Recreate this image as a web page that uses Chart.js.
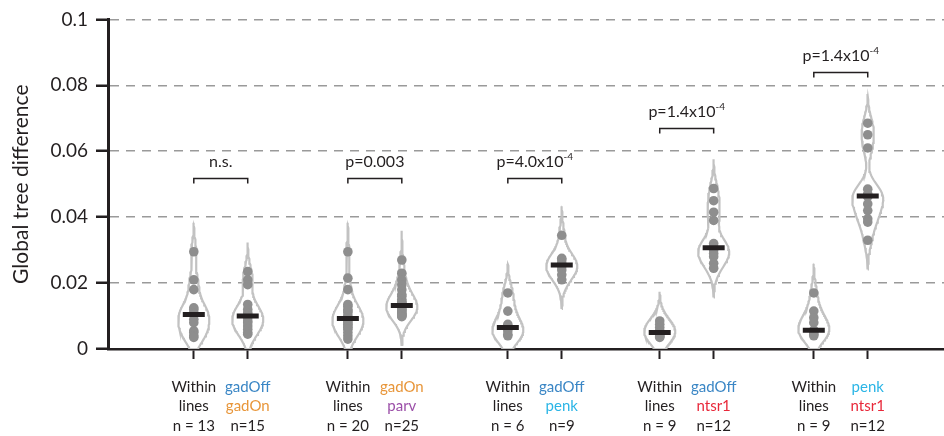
<!DOCTYPE html>
<html>
<head>
<meta charset="utf-8">
<script src="https://cdn.jsdelivr.net/npm/chart.js@4.4.0/dist/chart.umd.min.js"></script>
<style>
  html, body { margin: 0; padding: 0; background: #fff; overflow: hidden; }
  #wrap { width: 944px; height: 436px; position: relative; }
  canvas { display: block; }
</style>
</head>
<body>
<div id="wrap"><canvas id="violinChart"></canvas></div>
<script>
// values, one array per violin
const within1 = [0.0295, 0.021, 0.018, 0.0125, 0.012, 0.011, 0.0105, 0.009, 0.008, 0.0055, 0.005, 0.004, 0.0035];
const gadOffGadOn = [0.0235, 0.021, 0.0195, 0.0135, 0.012, 0.011, 0.0105, 0.01, 0.0095, 0.0085, 0.008, 0.007, 0.006, 0.005, 0.0045];
const within2 = [0.0295, 0.0215, 0.018, 0.0135, 0.013, 0.012, 0.0115, 0.011, 0.01, 0.0095, 0.009, 0.0085, 0.008, 0.0075, 0.007, 0.0065, 0.006, 0.005, 0.004, 0.003];
const gadOnParv = [0.027, 0.023, 0.021, 0.0195, 0.018, 0.0165, 0.016, 0.015, 0.0145, 0.014, 0.0138, 0.0135, 0.0132, 0.013, 0.0128, 0.0125, 0.012, 0.0118, 0.0115, 0.011, 0.0108, 0.0105, 0.0102, 0.01, 0.0098];
const within3 = [0.017, 0.0115, 0.0075, 0.0055, 0.0045, 0.004];
const gadOffPenk = [0.0345, 0.0275, 0.027, 0.026, 0.0255, 0.025, 0.024, 0.0225, 0.021];
const within4 = [0.0085, 0.0075, 0.0065, 0.0055, 0.005, 0.0045, 0.004, 0.0038, 0.0035];
const gadOffNtsr1 = [0.0487, 0.045, 0.0415, 0.039, 0.032, 0.031, 0.0305, 0.03, 0.029, 0.028, 0.026, 0.0245];
const within5 = [0.017, 0.0115, 0.0095, 0.008, 0.0057, 0.0055, 0.005, 0.0045, 0.004];
const penkNtsr1 = [0.0685, 0.065, 0.061, 0.0485, 0.047, 0.0466, 0.0462, 0.044, 0.042, 0.0395, 0.0385, 0.033];

const topLine = ['Within', 'gadOff', 'Within', 'gadOn', 'Within', 'gadOff', 'Within', 'gadOff', 'Within', 'penk'];
const midLine = ['lines', 'gadOn', 'lines', 'parv', 'lines', 'penk', 'lines', 'ntsr1', 'lines', 'ntsr1'];
const pText = ['n.s.', 'p=0.003', 'p=4.0x10', 'p=1.4x10', 'p=1.4x10'];
const pPower = ['', '', '-4', '-4', '-4'];
const bracketAt = [0.052, 0.052, 0.052, 0.067, 0.084];
const yTicks = [0, 0.02, 0.04, 0.06, 0.08, 0.1];

const violins = [within1, gadOffGadOn, within2, gadOnParv, within3, gadOffPenk, within4, gadOffNtsr1, within5, penkNtsr1];

const lineColor = { gadOff: '#3a86c5', gadOn: '#e8963a', parv: '#9b4fa8', penk: '#2bb5e6', ntsr1: '#e8283a' };
const ink = '#231f20';
const fontFam = 'Lato, "Open Sans", sans-serif';

// where each comparison group sits on the x axis, second violin shifted right
const groupAt = [1, 1.994, 3.026, 4.006, 5];
const pairGap = 0.348;
const xPos = violins.map((v, i) => groupAt[Math.floor(i / 2)] + (i % 2) * pairGap);
const halfWidth = 0.1;
const bw = 0.0034;

function median(vals) {
  const s = [...vals].sort((a, b) => a - b);
  const m = Math.floor(s.length / 2);
  return s.length % 2 ? s[m] : (s[m - 1] + s[m]) / 2;
}

function outline(vals, cx) {
  const lo = Math.max(Math.min(...vals) - 2.6 * bw, 0);
  const hi = Math.max(...vals) + 2.6 * bw;
  const steps = 90;
  const ys = [], dens = [];
  for (let i = 0; i <= steps; i++) {
    const y = lo + (hi - lo) * i / steps;
    let d = 0;
    vals.forEach(v => { const z = (y - v) / bw; d += Math.exp(-0.5 * z * z); });
    ys.push(y); dens.push(d);
  }
  const peak = Math.max(...dens);
  const right = ys.map((y, i) => ({ x: cx + halfWidth * dens[i] / peak, y: y }));
  const left = ys.map((y, i) => ({ x: cx - halfWidth * dens[i] / peak, y: y })).reverse();
  return [{ x: cx, y: lo }, ...right, { x: cx, y: hi }, ...left, { x: cx, y: lo }];
}

const datasets = [];
datasets.push({
  label: 'median',
  data: violins.map((v, i) => ({ x: xPos[i], y: median(v) })),
  pointStyle: 'line', pointRadius: 11, borderWidth: 5, borderColor: ink,
  order: 0
});
datasets.push({
  label: 'cells',
  data: violins.flatMap((v, i) => v.map(y => ({ x: xPos[i], y: y }))),
  pointRadius: 4.8, backgroundColor: '#8e8e8e', borderWidth: 0,
  order: 1
});
violins.forEach((v, i) => {
  datasets.push({
    label: 'violin' + i,
    data: outline(v, xPos[i]),
    showLine: true, pointRadius: 0, borderColor: '#c2c2c2', borderWidth: 2.2,
    tension: 0, fill: false, order: 2
  });
});

const annotations = {
  id: 'annotations',
  afterDraw(chart) {
    const ctx = chart.ctx;
    const xs = chart.scales.x, ys = chart.scales.y;
    const base = chart.chartArea.bottom;
    ctx.save();
    // category labels under the axis
    ctx.font = '15px ' + fontFam;
    ctx.textAlign = 'center';
    ctx.textBaseline = 'middle';
    violins.forEach((v, i) => {
      const px = xs.getPixelForValue(xPos[i]);
      ctx.fillStyle = lineColor[topLine[i]] || ink;
      ctx.fillText(topLine[i], px, base + 38);
      ctx.fillStyle = lineColor[midLine[i]] || ink;
      ctx.fillText(midLine[i], px, base + 57);
      ctx.fillStyle = ink;
      ctx.fillText((i % 2 ? 'n=' : 'n = ') + v.length, px, base + 77);
    });
    // significance brackets
    ctx.strokeStyle = ink;
    ctx.lineWidth = 1.5;
    pText.forEach((t, g) => {
      const x1 = xs.getPixelForValue(xPos[2 * g]);
      const x2 = xs.getPixelForValue(xPos[2 * g + 1]);
      const yb = Math.round(ys.getPixelForValue(bracketAt[g])) + 0.5;
      ctx.beginPath();
      ctx.moveTo(x1, yb + 5); ctx.lineTo(x1, yb); ctx.lineTo(x2, yb); ctx.lineTo(x2, yb + 5);
      ctx.stroke();
      ctx.fillStyle = ink;
      ctx.textBaseline = 'alphabetic';
      ctx.font = '16px ' + fontFam;
      const w1 = ctx.measureText(t).width;
      ctx.font = '10px ' + fontFam;
      const w2 = pPower[g] ? ctx.measureText(pPower[g]).width : 0;
      const start = (x1 + x2) / 2 - (w1 + w2) / 2;
      ctx.textAlign = 'left';
      ctx.font = '16px ' + fontFam;
      ctx.fillText(t, start, yb - 12);
      if (pPower[g]) {
        ctx.font = '10px ' + fontFam;
        ctx.fillText(pPower[g], start + w1, yb - 19);
      }
    });
    ctx.restore();
  }
};

new Chart(document.getElementById('violinChart'), {
  type: 'scatter',
  data: { datasets: datasets },
  options: {
    responsive: true,
    maintainAspectRatio: false,
    animation: false,
    layout: { autoPadding: false, padding: { top: 19, right: 0, left: 0, bottom: 0 } },
    plugins: { legend: { display: false }, tooltip: { enabled: false } },
    scales: {
      x: {
        type: 'linear', min: 0.4465, max: 5.84,
        afterBuildTicks: s => { s.ticks = xPos.map(v => ({ value: v })); },
        afterFit: s => { s.height = 87; },
        ticks: { callback: () => '', font: { size: 1 } },
        grid: { drawOnChartArea: false, drawTicks: true, tickLength: 10, tickColor: ink, tickWidth: 2 },
        border: { display: true, color: ink, width: 2.5 }
      },
      y: {
        min: 0, max: 0.1,
        afterBuildTicks: s => { s.ticks = yTicks.map(v => ({ value: v })); },
        afterFit: s => { s.width = 108; },
        ticks: {
          padding: 8, color: ink,
          font: { family: fontFam, size: 19 },
          callback: v => String(parseFloat(v.toFixed(2)))
        },
        grid: {
          color: c => (c.tick && c.tick.value === 0) ? 'rgba(0,0,0,0)' : '#9a9a9a',
          lineWidth: 1.5, tickLength: 12, tickColor: ink, tickWidth: 2.5
        },
        border: { display: true, color: ink, width: 3, dash: [9, 7] },
        title: {
          display: true, text: 'Global tree difference', color: ink,
          font: { family: fontFam, size: 21 }, padding: { top: 9, bottom: 0 }
        }
      }
    }
  },
  plugins: [annotations]
});
</script>
</body>
</html>
